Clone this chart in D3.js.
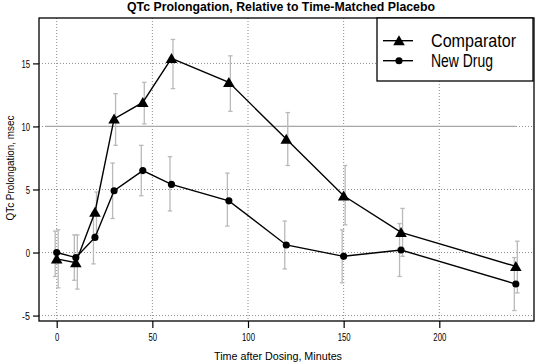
<!DOCTYPE html>
<html>
<head>
<meta charset="utf-8">
<script src="https://cdn.jsdelivr.net/npm/d3@7"></script>
<style>
  body { margin: 0; background: #fff; }
  svg { display: block; }
  text { font-family: "Liberation Sans", Arial, sans-serif; fill: #000; }
</style>
</head>
<body>
<div id="chart"></div>
<script>
// minutes after dosing
var times = [0, 10, 20, 30, 45, 60, 90, 120, 150, 180, 240];
// QTc change vs placebo, msec, with lower / upper bounds of the bars
var comparator   = [-0.5, -0.8, 3.2, 10.6, 11.9, 15.4, 13.5, 9.0, 4.5, 1.6, -1.1];
var comparatorLo = [-2.8, -2.9, 1.5, 8.5, 10.2, 13.0, 11.2, 6.9, 2.2, -0.3, -3.2];
var comparatorHi = [1.8, 1.4, 4.8, 12.6, 13.5, 16.9, 15.6, 11.1, 6.9, 3.5, 0.9];
var newDrug   = [0.0, -0.4, 1.2, 4.9, 6.5, 5.4, 4.1, 0.6, -0.3, 0.2, -2.5];
var newDrugLo = [-1.9, -2.2, -0.9, 2.7, 4.5, 3.3, 2.1, -1.3, -2.4, -1.9, -4.6];
var newDrugHi = [1.7, 1.4, 3.2, 7.1, 8.5, 7.6, 6.3, 2.5, 1.8, 2.3, -0.4];
var xTicks = [0, 50, 100, 150, 200];
var yTicks = [-5, 0, 5, 10, 15];
var refLine = 10;

var W = 535, H = 364;
var margin = { top: 18, right: 1, bottom: 43, left: 39 };
var width = W - margin.left - margin.right, height = H - margin.top - margin.bottom;

var x = d3.scaleLinear().domain([-9.25, 249.5]).range([0, width]);
var y = d3.scaleLinear().domain([-5.43, 18.6]).range([height, 0]);

// the original uses a condensed face, squeeze the text to its measured width
function narrow(sel, w) {
    sel.attr("textLength", w).attr("lengthAdjust", "spacingAndGlyphs");
}

var svg = d3.select("#chart").append("svg")
    .attr("width", W)
    .attr("height", H);

svg.append("text")
    .attr("x", 281)
    .attr("y", 11)
    .attr("text-anchor", "middle")
    .style("font-size", "12px")
    .style("font-weight", "bold")
    .text("QTc Prolongation, Relative to Time-Matched Placebo")
    .call(narrow, 308);

var g = svg.append("g")
    .attr("transform", "translate(" + margin.left + "," + margin.top + ")");

// dotted grid
g.append("g").selectAll("line")
    .data(xTicks)
    .enter().append("line")
    .attr("x1", function (d) { return x(d); })
    .attr("x2", function (d) { return x(d); })
    .attr("y1", 0)
    .attr("y2", height)
    .attr("stroke", "#8c8c8c")
    .attr("stroke-dasharray", "1,2");
g.append("g").selectAll("line")
    .data(yTicks)
    .enter().append("line")
    .attr("x1", 0)
    .attr("x2", width)
    .attr("y1", function (d) { return y(d); })
    .attr("y2", function (d) { return y(d); })
    .attr("stroke", "#8c8c8c")
    .attr("stroke-dasharray", "1,2");

// 10 msec threshold
g.append("line")
    .attr("x1", x(-6))
    .attr("x2", x(240))
    .attr("y1", y(refLine))
    .attr("y2", y(refLine))
    .attr("stroke", "#a8a8a8")
    .attr("stroke-width", 1.2);

var series = [
    { name: "Comparator", vals: comparator, lo: comparatorLo, hi: comparatorHi, shape: "tri", dx: 1.5, w: 85 },
    { name: "New Drug", vals: newDrug, lo: newDrugLo, hi: newDrugHi, shape: "dot", dx: -1.5, w: 62 }
];

// error bars
series.forEach(function (s) {
    var eb = g.append("g").selectAll("g")
        .data(times)
        .enter().append("g")
        .attr("stroke", "#b9b9b9")
        .attr("stroke-width", 1.3);
    eb.append("line")
        .attr("x1", function (d) { return x(d) + s.dx; })
        .attr("x2", function (d) { return x(d) + s.dx; })
        .attr("y1", function (d, i) { return y(s.lo[i]); })
        .attr("y2", function (d, i) { return y(s.hi[i]); });
    [s.lo, s.hi].forEach(function (arr) {
        eb.append("line")
            .attr("x1", function (d) { return x(d) + s.dx - 2.2; })
            .attr("x2", function (d) { return x(d) + s.dx + 2.2; })
            .attr("y1", function (d, i) { return y(arr[i]); })
            .attr("y2", function (d, i) { return y(arr[i]); });
    });
});

var line = d3.line()
    .x(function (d) { return x(d[0]); })
    .y(function (d) { return y(d[1]); });

var tri = d3.symbol().type(d3.symbolTriangle).size(58);
var dot = d3.symbol().type(d3.symbolCircle).size(40);

series.forEach(function (s) {
    g.append("path")
        .datum(d3.zip(times, s.vals))
        .attr("d", line)
        .attr("fill", "none")
        .attr("stroke", "#000")
        .attr("stroke-width", 1.4);
    g.append("g").selectAll("path")
        .data(d3.zip(times, s.vals))
        .enter().append("path")
        .attr("d", s.shape === "tri" ? tri : dot)
        .attr("transform", function (d) {
            return "translate(" + x(d[0]) + "," + (y(d[1]) + (s.shape === "tri" ? 1.3 : 0)) + ")";
        })
        .attr("fill", "#000");
});

// axes
var fmt = function (d) { return String(d); };
var yAxis = g.append("g")
    .call(d3.axisLeft(y).tickValues(yTicks).tickFormat(fmt).tickSize(6).tickPadding(3));
var xAxis = g.append("g")
    .attr("transform", "translate(0," + height + ")")
    .call(d3.axisBottom(x).tickValues(xTicks).tickFormat(fmt).tickSize(7).tickPadding(5));
[yAxis, xAxis].forEach(function (a) {
    a.select(".domain").remove();
    a.selectAll("line").attr("stroke", "#000").attr("stroke-width", 1.2);
    a.selectAll("text")
        .style("font-size", "11.5px")
        .style("font-family", null)
        .each(function (d) {
            var t = String(d);
            d3.select(this).call(narrow, t.replace("-", "").length * 4.3 + (t.indexOf("-") >= 0 ? 3.6 : 0));
        });
});

g.append("rect")
    .attr("x", 0)
    .attr("y", 0)
    .attr("width", width)
    .attr("height", height)
    .attr("fill", "none")
    .attr("stroke", "#000")
    .attr("stroke-width", 1.3);

// legend
var lg = g.append("g").attr("transform", "translate(" + (377 - margin.left) + ",0)");
lg.append("rect")
    .attr("width", 533 - 377)
    .attr("height", 81 - margin.top)
    .attr("fill", "#fff")
    .attr("stroke", "#000")
    .attr("stroke-width", 1.3);
series.forEach(function (s, i) {
    var row = lg.append("g").attr("transform", "translate(0," + (22.7 + i * 20) + ")");
    row.append("line")
        .attr("x1", 6).attr("x2", 36)
        .attr("stroke", "#000").attr("stroke-width", 1.4);
    row.append("path")
        .attr("d", s.shape === "tri" ? tri : dot)
        .attr("transform", "translate(22," + (s.shape === "tri" ? 1.3 : 0) + ")")
        .attr("fill", "#000");
    row.append("text")
        .attr("x", 54)
        .attr("y", 6.3)
        .style("font-size", "17.5px")
        .text(s.name)
        .call(narrow, s.w);
});

svg.append("text")
    .attr("x", 278)
    .attr("y", 360)
    .attr("text-anchor", "middle")
    .style("font-size", "11px")
    .text("Time after Dosing, Minutes")
    .call(narrow, 128);

svg.append("text")
    .attr("transform", "translate(14,168) rotate(-90)")
    .attr("text-anchor", "middle")
    .style("font-size", "11px")
    .text("QTc Prolongation, msec")
    .call(narrow, 105);
</script>
</body>
</html>
